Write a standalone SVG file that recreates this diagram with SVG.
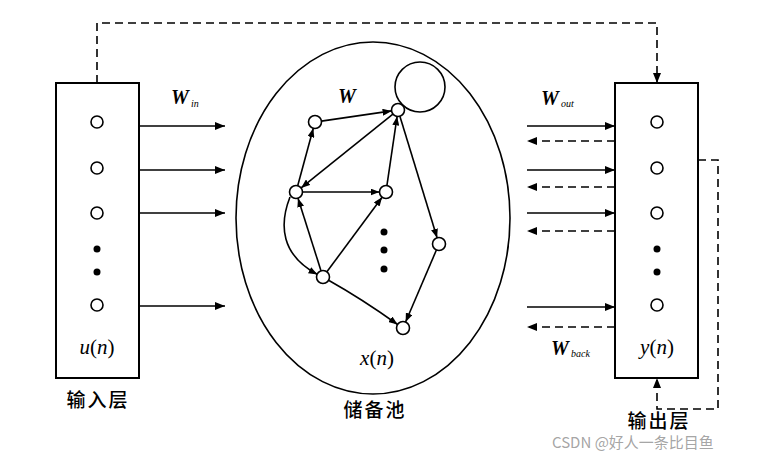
<svg xmlns="http://www.w3.org/2000/svg" width="757" height="458" viewBox="0 0 757 458">
<style>
.box{fill:#fff;stroke:#000;stroke-width:2}
.nd{fill:#fff;stroke:#000;stroke-width:1.6}
.dot{fill:#000}
.ln{fill:none;stroke:#000;stroke-width:1.6}
.dash{fill:none;stroke:#000;stroke-width:1.6;stroke-dasharray:8 5}
.ser{font-family:"Liberation Serif","Times New Roman",serif;font-style:italic;fill:#000}
.wb{font-family:"Liberation Serif","Times New Roman",serif;font-style:italic;font-weight:bold;font-size:20px;fill:#000}
.sub{font-family:"Liberation Serif","Times New Roman",serif;font-style:italic;font-size:10px;fill:#000}
.cn{font-family:"Noto Sans CJK SC","Noto Sans",sans-serif;font-size:19px;font-weight:500;fill:#000;text-anchor:middle;letter-spacing:2px}
</style>
<defs>
<marker id="ah" markerWidth="10" markerHeight="8" refX="10" refY="4" orient="auto" markerUnits="userSpaceOnUse"><path d="M0,0 L10,4 L0,8 z" fill="#000"/></marker>
<marker id="as" markerWidth="9" markerHeight="7" refX="9" refY="3.5" orient="auto" markerUnits="userSpaceOnUse"><path d="M0,0 L9,3.5 L0,7 z" fill="#000"/></marker>
</defs>

<g id="input-layer">
<rect class="box" x="56" y="83" width="83" height="295"/>
<circle class="nd" cx="97" cy="122" r="6"/>
<circle class="nd" cx="97" cy="168" r="6"/>
<circle class="nd" cx="97" cy="213" r="6"/>
<circle class="dot" cx="97" cy="249" r="3.5"/>
<circle class="dot" cx="97" cy="272" r="3.5"/>
<circle class="nd" cx="97" cy="305" r="6"/>
<text class="ser" x="97" y="354" font-size="21" text-anchor="middle">u<tspan font-style="normal">(</tspan>n<tspan font-style="normal">)</tspan></text>
<text class="cn" x="98" y="407">输入层</text>
</g>

<g id="output-layer">
<rect class="box" x="615" y="83" width="83" height="295"/>
<circle class="nd" cx="657" cy="122" r="6"/>
<circle class="nd" cx="657" cy="168" r="6"/>
<circle class="nd" cx="657" cy="213" r="6"/>
<circle class="dot" cx="657" cy="249" r="3.5"/>
<circle class="dot" cx="657" cy="272" r="3.5"/>
<circle class="nd" cx="657" cy="305" r="6"/>
<text class="ser" x="657" y="354" font-size="21" text-anchor="middle">y<tspan font-style="normal">(</tspan>n<tspan font-style="normal">)</tspan></text>
<text class="cn" x="659" y="428">输出层</text>
</g>

<g id="reservoir">
<ellipse cx="373" cy="218" rx="137" ry="176" fill="none" stroke="#000" stroke-width="1.6"/>
<text class="wb" x="338" y="103">W</text>
<text class="ser" x="377" y="365" font-size="21" text-anchor="middle">x<tspan font-style="normal">(</tspan>n<tspan font-style="normal">)</tspan></text>
<text class="cn" x="375" y="417">储备池</text>
<circle class="dot" cx="384" cy="232" r="3.5"/>
<circle class="dot" cx="384" cy="250" r="3.5"/>
<circle class="dot" cx="384" cy="269" r="3.5"/>
</g>

<g id="connectors">
<circle cx="420" cy="87" r="25" fill="none" stroke="#000" stroke-width="1.6"/>
<line class="ln" x1="321.4" y1="121.1" x2="391.6" y2="110.9" marker-end="url(#as)"/>
<line class="ln" x1="392.9" y1="114.1" x2="301.1" y2="187.9" marker-end="url(#as)"/>
<line class="ln" x1="297.7" y1="185.7" x2="313.3" y2="128.3" marker-end="url(#as)"/>
<line class="ln" x1="302.5" y1="192" x2="379.5" y2="192" marker-end="url(#as)"/>
<line class="ln" x1="386.9" y1="185.6" x2="397.1" y2="116.4" marker-end="url(#as)"/>
<line class="ln" x1="399.9" y1="116.2" x2="437.1" y2="237.8" marker-end="url(#as)"/>
<line class="ln" x1="321" y1="270.8" x2="298" y2="198.2" marker-end="url(#as)"/>
<line class="ln" x1="326.9" y1="271.8" x2="382.1" y2="197.2" marker-end="url(#as)"/>
<line class="ln" x1="436.4" y1="250" x2="405.6" y2="322" marker-end="url(#as)"/>
<path class="ln" d="M290,197 C279,225 281,255 317.5,274.5" marker-end="url(#as)"/>
<path class="ln" d="M329,280.5 Q362,299 397.6,324.5" marker-end="url(#as)"/>

<line class="ln" x1="139" y1="126" x2="225" y2="126" marker-end="url(#ah)"/>
<line class="ln" x1="139" y1="170" x2="225" y2="170" marker-end="url(#ah)"/>
<line class="ln" x1="139" y1="213" x2="225" y2="213" marker-end="url(#ah)"/>
<line class="ln" x1="139" y1="306" x2="225" y2="306" marker-end="url(#ah)"/>

<line class="ln" x1="527" y1="126" x2="615" y2="126" marker-end="url(#ah)"/>
<line class="ln" x1="527" y1="170" x2="615" y2="170" marker-end="url(#ah)"/>
<line class="ln" x1="527" y1="213" x2="615" y2="213" marker-end="url(#ah)"/>
<line class="ln" x1="527" y1="307" x2="615" y2="307" marker-end="url(#ah)"/>
<line class="dash" x1="615" y1="141" x2="527" y2="141" marker-end="url(#ah)"/>
<line class="dash" x1="615" y1="187" x2="527" y2="187" marker-end="url(#ah)"/>
<line class="dash" x1="615" y1="231" x2="527" y2="231" marker-end="url(#ah)"/>
<line class="dash" x1="615" y1="327" x2="527" y2="327" marker-end="url(#ah)"/>

<path class="dash" d="M97,83 V23 H657 V83" marker-end="url(#ah)"/>
<path class="dash" d="M698,160 H718 V409 H657 V378" marker-end="url(#ah)"/>
</g>

<g id="node-a"><circle class="nd" cx="315" cy="122" r="6.5"/></g>
<g id="node-b"><circle class="nd" cx="398" cy="110" r="6.5"/></g>
<g id="node-c"><circle class="nd" cx="296" cy="192" r="6.5"/></g>
<g id="node-d"><circle class="nd" cx="386" cy="192" r="6.5"/></g>
<g id="node-e"><circle class="nd" cx="323" cy="277" r="6.5"/></g>
<g id="node-f"><circle class="nd" cx="439" cy="244" r="6.5"/></g>
<g id="node-g"><circle class="nd" cx="403" cy="328" r="6.5"/></g>

<g id="labels">
<text class="wb" x="171" y="104">W</text><text class="sub" x="191" y="107">in</text>
<text class="wb" x="541" y="105">W</text><text class="sub" x="561" y="107">out</text>
<text class="wb" x="551" y="355">W</text><text class="sub" x="571" y="357">back</text>
<text x="552" y="448" font-family="'Noto Sans CJK SC','Noto Sans',sans-serif" font-size="15" fill="#9a9a9a" fill-opacity="0.9">CSDN @好人一条比目鱼</text>
</g>
</svg>
